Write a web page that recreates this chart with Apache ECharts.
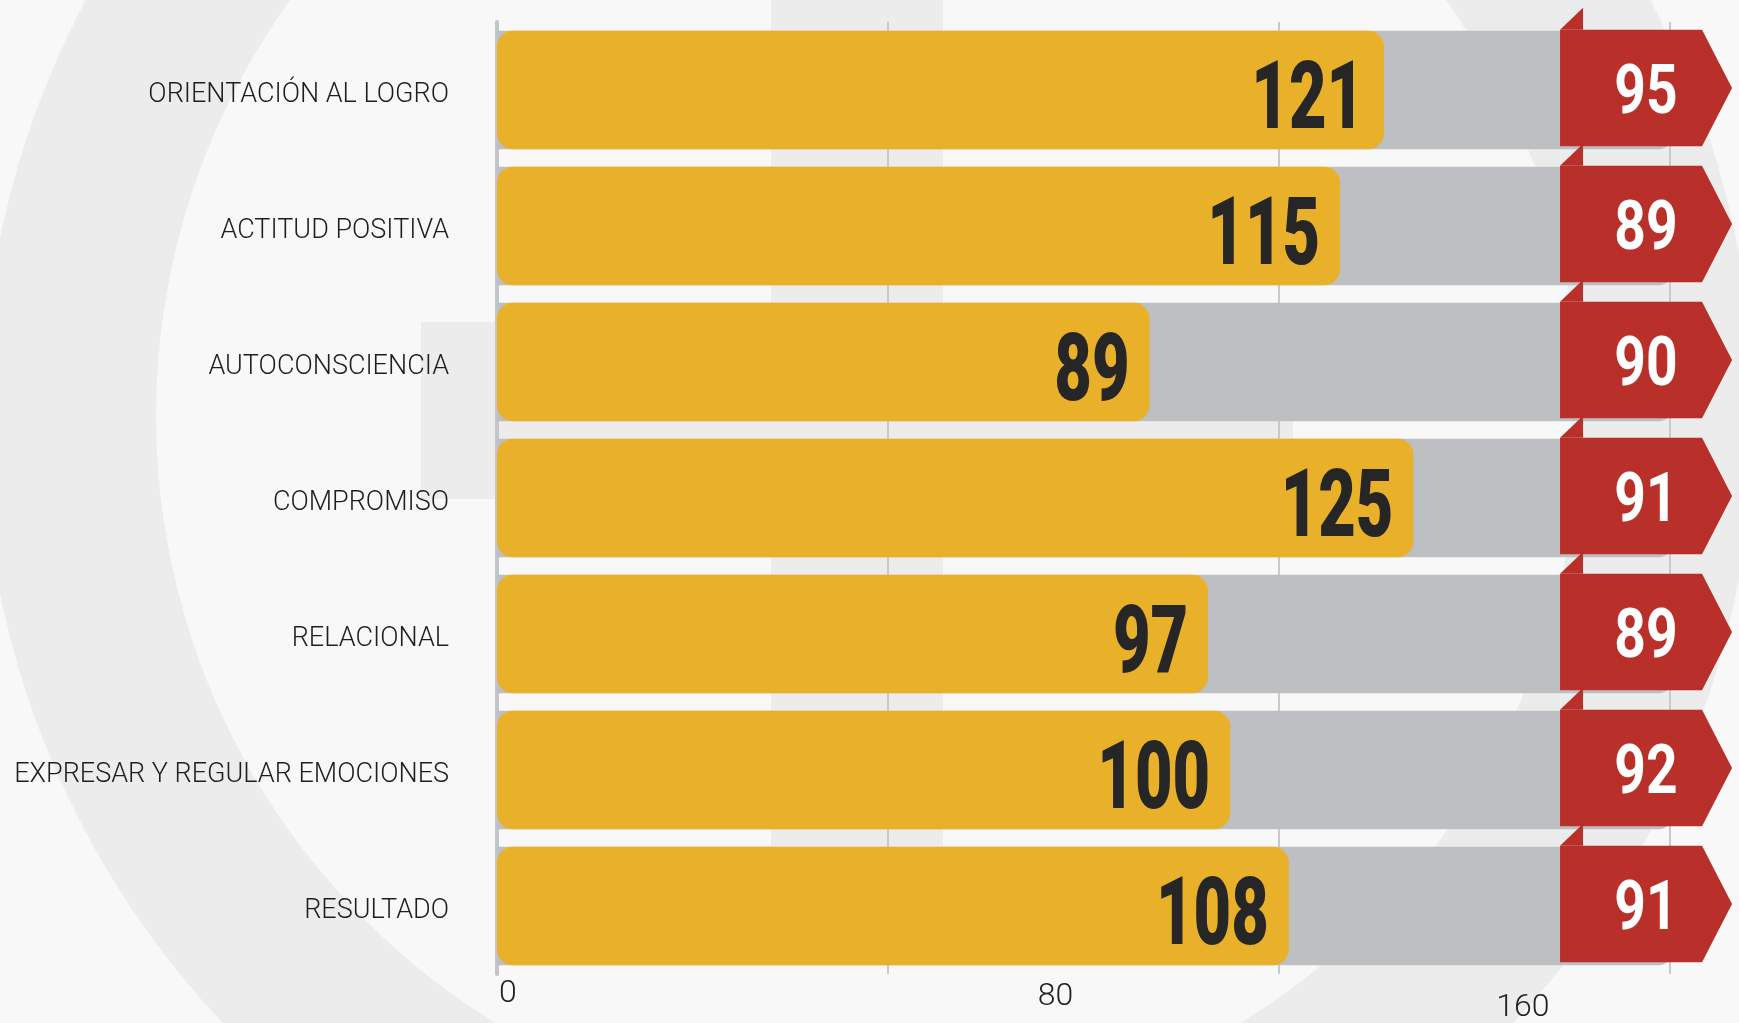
<!DOCTYPE html>
<html>
<head>
<meta charset="utf-8">
<script src="https://cdn.jsdelivr.net/npm/echarts@6/dist/echarts.min.js"></script>
<style>
  html, body { margin: 0; padding: 0; background: #f8f8f8; }
  #chart { width: 1739px; height: 1023px; }
</style>
</head>
<body>
<div id="chart"></div>
<script>
// ---- data ----
const categories = [
  'ORIENTACIÓN AL LOGRO',
  'ACTITUD POSITIVA',
  'AUTOCONSCIENCIA',
  'COMPROMISO',
  'RELACIONAL',
  'EXPRESAR Y REGULAR EMOCIONES',
  'RESULTADO'
];
const scores = [121, 115, 89, 125, 97, 100, 108];
const flagValues = [95, 89, 90, 91, 89, 92, 91];
const tickLabels = [0, 80, 160];

// ---- styling constants ----
const LABEL_FONT = "'Roboto', 'DejaVu Sans Condensed', sans-serif";
const NUM_FONT = "'Roboto', 'DejaVu Sans Condensed', sans-serif";
const FLAG_X = 145;      // axis value where the red flags start
const YELLOW = '#e9b02a';
const GRAY = '#bebfc3';
const RED = '#b9302a';
const WM = '#ececec';

const chart = echarts.init(document.getElementById('chart'));

const option = {
  backgroundColor: '#f8f8f8',
  animation: false,
  graphic: [
    { type: 'ring', z: -10, silent: true, shape: { cx: 868, cy: 416, r: 886, r0: 712 }, style: { fill: WM } },
    { type: 'rect', z: -10, silent: true, shape: { x: 771, y: -30, width: 172, height: 876 }, style: { fill: WM } },
    { type: 'rect', z: -10, silent: true, shape: { x: 421, y: 322, width: 872, height: 177 }, style: { fill: WM } }
  ],
  grid: { left: 497, right: 69, top: 22, bottom: 49, containLabel: false, outerBoundsMode: 'none' },
  xAxis: [
    {
      type: 'value', min: 0, max: 160, interval: 160 / 3,
      axisLabel: { show: false }, axisLine: { show: false }, axisTick: { show: false },
      splitLine: { show: true, lineStyle: { color: '#c9c9c9', width: 2 } }
    },
    {
      type: 'value', min: -1.73, max: 183.2, position: 'bottom',
      axisLine: { show: false }, axisTick: { show: false }, splitLine: { show: false },
      axisLabel: {
        customValues: tickLabels,
        margin: 4,
        formatter: function (v) {
          const i = tickLabels.indexOf(v);
          return '{t' + i + '|' + v + '}';
        },
        rich: {
          t0: { fontSize: 32, fontFamily: LABEL_FONT, fontWeight: 300, color: '#222222', padding: [0, 0, 0, 0] },
          t1: { fontSize: 32, fontFamily: LABEL_FONT, fontWeight: 300, color: '#222222', padding: [3, 0, 0, 80] },
          t2: { fontSize: 32, fontFamily: LABEL_FONT, fontWeight: 300, color: '#222222', padding: [14, 0, 0, 0] }
        }
      }
    }
  ],
  yAxis: {
    type: 'category', data: categories, inverse: true,
    axisTick: { show: false },
    axisLine: { show: true, lineStyle: { color: '#c4c5c8', width: 4 } },
    axisLabel: {
      margin: 48,
      formatter: function (v) { return '{c|' + v + '}'; },
      rich: {
        c: { fontSize: 27, fontWeight: 300, color: '#1e1e1e', fontFamily: LABEL_FONT, padding: [10, 0, 0, 0] }
      }
    }
  },
  series: [
    {
      type: 'bar', xAxisIndex: 0, yAxisIndex: 0,
      data: scores,
      barWidth: '87%',
      showBackground: true,
      backgroundStyle: { color: GRAY, borderRadius: [0, 10, 10, 0] },
      itemStyle: { color: YELLOW, borderRadius: 16 },
      label: { show: false },
      z: 2
    },
    {
      // value labels on the yellow bars (condensed look via horizontal scaling)
      type: 'custom', xAxisIndex: 0, yAxisIndex: 0,
      clip: false, z: 4,
      data: scores.map((v, i) => [v, i]),
      encode: { x: 0, y: 1 },
      renderItem: function (params, api) {
        const p = api.coord([api.value(0), api.value(1)]);
        return {
          type: 'text',
          x: p[0] - 20, y: p[1] + 14,
          scaleX: 0.69,
          style: {
            text: String(api.value(0)),
            fontSize: 94, fontWeight: 900, fontFamily: NUM_FONT,
            fill: '#262626', align: 'right', verticalAlign: 'middle'
          }
        };
      }
    },
    {
      type: 'custom', xAxisIndex: 0, yAxisIndex: 0,
      clip: false, z: 5,
      data: flagValues.map((v, i) => [FLAG_X, i, v]),
      encode: { x: 0, y: 1 },
      renderItem: function (params, api) {
        const p = api.coord([api.value(0), api.value(1)]);
        const band = api.size([0, 1])[1];
        const h = band * 0.87 - 2;
        const top = p[1] - band * 0.87 / 2 - 1;
        const x0 = p[0];
        const w = 142, tip = 30;
        return {
          type: 'group',
          children: [
            {
              type: 'polygon',
              shape: { points: [[x0, top], [x0 + w, top], [x0 + w + tip, top + h / 2], [x0 + w, top + h], [x0, top + h]] },
              style: { fill: RED }
            },
            {
              type: 'polygon',
              shape: { points: [[x0, top], [x0 + 23, top - 22], [x0 + 23, top]] },
              style: { fill: RED }
            },
            {
              type: 'text',
              x: x0 + 86, y: top + h / 2 + 8,
              scaleX: 0.8,
              style: {
                text: String(api.value(2)),
                fontSize: 69, fontWeight: 'bold', fontFamily: NUM_FONT,
                fill: '#ffffff', align: 'center', verticalAlign: 'middle'
              }
            }
          ]
        };
      }
    }
  ]
};

chart.setOption(option);
</script>
</body>
</html>
